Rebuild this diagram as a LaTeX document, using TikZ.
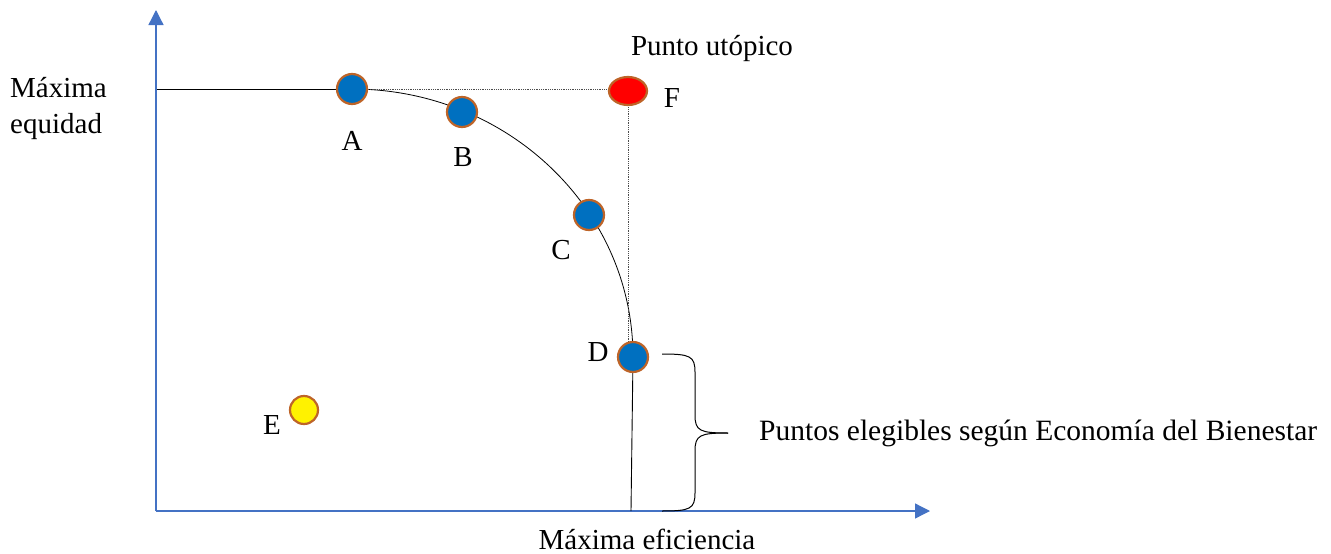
\documentclass[tikz,border=0pt]{standalone}
\usepackage{fontspec}
\setmainfont{Liberation Serif}
\usetikzlibrary{arrows.meta,shapes.geometric}
\definecolor{axisblue}{RGB}{68,114,196}
\definecolor{dotblue}{RGB}{0,112,192}
\definecolor{dotborder}{RGB}{190,100,40}
\begin{document}
\begin{tikzpicture}[x=1pt,y=-1pt,
  axisline/.style={axisblue,line width=1.3pt,-{Triangle[width=15pt,length=15pt]}},
  dot/.style={circle,draw=dotborder,line width=2.2pt,fill=dotblue,minimum size=30pt,inner sep=0pt},
  lbl/.style={font=\fontsize{29}{36}\selectfont,inner sep=0pt,anchor=base},
  guide/.style={black!70,densely dotted,line width=0.8pt}]
\useasboundingbox (0,0) rectangle (1331,554);
% axes
\coordinate (O) at (156,511);
\coordinate (Ytop) at (156,10);
\coordinate (Xend) at (930,511);
\draw[axisline] (O) -- (Ytop);
\draw[axisline] (O) -- (Xend);
% frontier
\coordinate (Lstart) at (157,89);
\coordinate (Apos) at (352,89);
\coordinate (Dpos) at (633,357);
\coordinate (Dfoot) at (631,511);
\coordinate (Fpos) at (628,91);
\draw[line width=0.9pt] (Lstart) -- (Apos);
\draw[line width=0.8pt] (Apos) arc[start angle=-90,end angle=0,x radius=281,y radius=268];
\draw[guide] (Apos) -- (Fpos |- Apos) -- (Fpos);
\draw[guide] (Fpos) -- (Dpos -| Fpos);
\draw[line width=0.9pt] (Dpos) -- (Dfoot);
% points
\node[dot] (A) at (Apos) {};
\node[dot] (B) at (462,112) {};
\node[dot] (C) at (589,215) {};
\node[dot] (D) at (Dpos) {};
\node[dot,fill=yellow,minimum size=28pt] (E) at (304,410) {};
\node[dot,fill=red,ellipse,minimum width=38pt,minimum height=28pt] (F) at (Fpos) {};
% labels
\node[lbl] (lA) at (352,150) {A};
\node[lbl] (lB) at (463,166) {B};
\node[lbl] (lC) at (561,259) {C};
\node[lbl] (lD) at (598,361) {D};
\node[lbl] (lE) at (272,434) {E};
\node[lbl] (lF) at (672,107) {F};
\node[lbl] (utop) at (712,55) {Punto utópico};
\node[lbl,anchor=base west] (equid1) at (10,97) {Máxima};
\node[lbl,anchor=base west] (equid2) at (10,133) {equidad};
\node[lbl] (efic) at (647,549) {Máxima eficiencia};
% brace
\coordinate (Btop) at (662,354);
\coordinate (Bbot) at (662,511);
\coordinate (Btip) at (728,433);
\draw[line width=1pt] (Btop) .. controls (690,354) and (695,356) .. (695,372)
  -- (695,415) .. controls (695,431) and (700,433) .. (Btip);
\draw[line width=1pt] (Bbot) .. controls (690,511) and (695,509) .. (695,493)
  -- (695,451) .. controls (695,435) and (700,433) .. (Btip);
\node[lbl,anchor=base west,font=\fontsize{29.5}{36}\selectfont] (elig) at (759,440) {Puntos elegibles según Economía del Bienestar};
\end{tikzpicture}
\end{document}
